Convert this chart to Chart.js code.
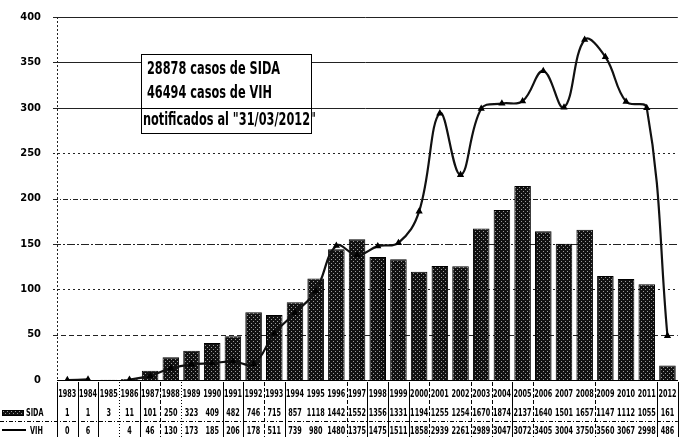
<!DOCTYPE html>
<html><head><meta charset="utf-8">
<script src="https://cdn.jsdelivr.net/npm/chart.js@4/dist/chart.umd.min.js"></script>
<style>html,body{margin:0;padding:0;background:#fff}</style>
</head><body>
<canvas id="c" width="684" height="437"></canvas>
<script>
const years = ["1983","1984","1985","1986","1987","1988","1989","1990","1991","1992","1993","1994","1995","1996","1997","1998","1999","2000","2001","2002","2003","2004","2005","2006","2007","2008","2009","2010","2011","2012"];
const sida = [1,1,3,11,101,250,323,409,482,746,715,857,1118,1442,1552,1356,1331,1194,1255,1254,1670,1874,2137,1640,1501,1657,1147,1112,1055,161];
const vih = [0,6,null,4,46,130,173,185,206,178,511,739,980,1480,1375,1475,1511,1858,2939,2261,2989,3047,3072,3405,3004,3750,3560,3067,2998,486];
const yTickValues = [0,500,1000,1500,2000,2500,3000,3500,4000];
const seriesNames = ["SIDA","VIH"];
const noteLines = ["28878 casos de SIDA","46494 casos de VIH","notificados al \"31/03/2012\""];

const FONT = "'Liberation Sans Narrow','DejaVu Sans Condensed','Arial Narrow',sans-serif";

const pc = document.createElement('canvas'); pc.width = 4; pc.height = 4;
const pctx = pc.getContext('2d');
pctx.fillStyle = '#111'; pctx.fillRect(0,0,4,4);
pctx.fillStyle = '#9a9a9a'; pctx.fillRect(1,1,1,1); pctx.fillRect(3,3,1,1);
const ctx = document.getElementById('c').getContext('2d');
const barPattern = ctx.createPattern(pc,'repeat');

function condText(c, text, x, y, sx, align){
  c.save();
  c.translate(x, y);
  c.scale(sx, 1);
  c.textAlign = align || 'center';
  c.textBaseline = 'middle';
  c.fillText(text, 0, 0);
  c.restore();
}

const gridPlugin = {
  id: 'gridlines',
  beforeDatasetsDraw(chart){
    const c = chart.ctx, ys = chart.scales.y, a = chart.chartArea;
    const dashes = {0:[], 500:[5,3], 1000:[2,3], 1500:[8,2,2,2], 2000:[5,2,1,2], 2500:[2,3], 3000:[], 3500:[], 4000:[]};
    c.save();
    c.strokeStyle = '#222'; c.lineWidth = 1;
    yTickValues.forEach(v => {
      if (v === 0) return;
      const y = Math.round(ys.getPixelForValue(v)) + 0.5;
      c.setLineDash(dashes[v] || []);
      c.beginPath(); c.moveTo(a.left - 4, y); c.lineTo(a.right, y); c.stroke();
    });
    c.setLineDash([2,2]);
    c.beginPath(); c.moveTo(a.left + 0.5, a.top); c.lineTo(a.left + 0.5, a.bottom); c.stroke();
    c.restore();
  }
};

const tablePlugin = {
  id: 'table',
  afterDraw(chart){
    const c = chart.ctx, xs = chart.scales.x, ys = chart.scales.y;
    const area = chart.chartArea;
    c.save();
    c.fillStyle = '#000';
    c.font = 'bold 10px ' + FONT;
    const half = (xs.getPixelForValue(1) - xs.getPixelForValue(0)) / 2;
    for (let i = 0; i < years.length; i++){
      const x = xs.getPixelForValue(i);
      condText(c, years[i], x, 394, 0.72);
      condText(c, String(sida[i]), x, 413, 0.72);
      if (vih[i] !== null) condText(c, String(vih[i]), x, 431, 0.72);
    }
    const styles = ['s','s','s','o','s','d','o','','s','s','d','s','','','d','s','s','s','d','','d','d','s','d','','','d','','','s','s'];
    for (let k = 0; k <= years.length; k++){
      const st = styles[k]; if (!st) continue;
      const x = Math.round(xs.getPixelForValue(0) - half + k * 2 * half) + 0.5;
      c.beginPath();
      c.setLineDash(st === 's' ? [] : st === 'd' ? [4,2] : [1,2]);
      c.strokeStyle = '#000'; c.lineWidth = 1;
      c.moveTo(x, 382); c.lineTo(x, 437); c.stroke();
    }
    c.beginPath(); c.setLineDash([4,2,1,2]);
    c.moveTo(0, 421.5); c.lineTo(area.right, 421.5); c.stroke();
    c.setLineDash([]);
    c.fillStyle = barPattern; c.fillRect(2, 410, 22, 6);
    c.strokeRect(2.5, 410.5, 21, 5);
    c.fillStyle = '#000';
    condText(c, seriesNames[0], 26, 413, 0.72, 'left');
    c.beginPath(); c.lineWidth = 2; c.moveTo(2, 430); c.lineTo(26, 430); c.stroke();
    condText(c, seriesNames[1], 30, 431, 0.72, 'left');
    const bx = 141, by = 54, bw = 170, bh = 79;
    c.lineWidth = 1;
    c.fillStyle = '#fff'; c.fillRect(bx, by, bw, bh);
    c.strokeStyle = '#000'; c.strokeRect(bx + 0.5, by + 0.5, bw, bh);
    const gy = Math.round(ys.getPixelForValue(3000)) + 0.5;
    c.beginPath(); c.moveTo(bx, gy); c.lineTo(bx + bw, gy); c.stroke();
    c.fillStyle = '#000';
    c.font = 'bold 17px ' + FONT;
    condText(c, noteLines[0], 147, 70, 0.74, 'left');
    condText(c, noteLines[1], 147, 94, 0.74, 'left');
    condText(c, noteLines[2], 143, 121, 0.74, 'left');
    c.restore();
  }
};

new Chart(ctx, {
  type: 'bar',
  data: {
    labels: years,
    datasets: [
      { type: 'line', label: seriesNames[1], data: vih, borderColor: '#111', borderWidth: 2.2,
        tension: 0.4, pointRadius: 2, pointStyle: 'triangle', pointBackgroundColor: '#000',
        pointBorderColor: '#000', spanGaps: false, order: 0 },
      { type: 'bar', label: seriesNames[0], data: sida, backgroundColor: barPattern, borderColor: '#000',
        borderWidth: 1, barPercentage: 0.8, categoryPercentage: 1.0, order: 1 }
    ]
  },
  options: {
    responsive: false, animation: false, devicePixelRatio: 1,
    layout: { padding: { top: 17, right: 4, bottom: 57, left: 0 } },
    plugins: { legend: { display: false }, tooltip: { enabled: false } },
    scales: {
      x: { offset: true, ticks: { display: false }, grid: { display: false, drawTicks: false },
           border: { display: true, color: '#000', width: 1 } },
      y: { min: 0, max: 4000,
           afterBuildTicks: s => { s.ticks = yTickValues.map(v => ({ value: v })); },
           afterFit: s => { s.width = 57; },
           ticks: { color: '#000', font: { family: FONT, size: 11, weight: 'bold' }, padding: 8,
                    callback: v => String(v / 10) },
           grid: { display: false },
           border: { display: false } }
    }
  },
  plugins: [gridPlugin, tablePlugin]
});
</script>
</body></html>
